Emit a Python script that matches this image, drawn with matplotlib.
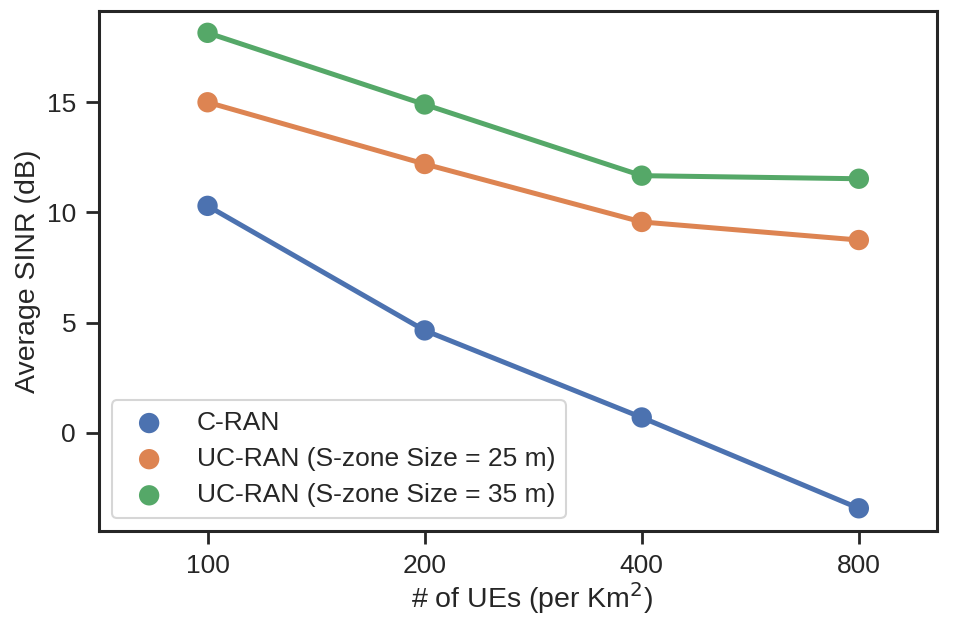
import matplotlib
matplotlib.use("Agg")
import matplotlib.pyplot as plt
import seaborn as sns

sns.set_theme(style="ticks", context="talk")
plt.rcParams['font.family'] = ['Arial', 'Liberation Sans', 'DejaVu Sans']

categories = ["100", "200", "400", "800"]
cran = [10.3, 4.65, 0.7, -3.42]
ucran25 = [15.0, 12.2, 9.57, 8.75]
ucran35 = [18.15, 14.9, 11.67, 11.53]
series_names = ["C-RAN", "UC-RAN (S-zone Size = 25 m)", "UC-RAN (S-zone Size = 35 m)"]
colors = ["#4C72B0", "#DD8452", "#55A868"]

fig = plt.figure(figsize=(9.6, 6.22), dpi=100)
ax = fig.add_axes([99/960, 1-531/622, (937-99)/960, (531-11)/622])

xs = list(range(len(categories)))
for vals, name, c in zip([cran, ucran25, ucran35], series_names, colors):
    ax.plot(xs, vals, color=c, lw=3.6, zorder=2)
    ax.scatter(xs, vals, color=c, s=215, zorder=3, label=name, edgecolors='none')

ax.set_xticks(xs)
ax.set_xticklabels(categories)
ax.set_xlim(-0.5, 3.36)
ax.set_ylim(-4.45, 19.14)
ax.set_yticks([0, 5, 10, 15])
ax.set_xlabel("# of UEs (per Km$^2$)", fontsize=20.5)
ax.set_ylabel("Average SINR (dB)", fontsize=20.5)
ax.xaxis.set_label_coords(0.517, -0.095)
ax.tick_params(labelsize=19, length=9.5, width=2, pad=7)
for s in ax.spines.values():
    s.set_linewidth(2.2)
ax.legend(loc="lower left", fontsize=19, borderaxespad=0.5, handletextpad=0.8,
          markerscale=1.0, labelspacing=0.46, borderpad=0.4)

fig.savefig("out.png", dpi=100)
